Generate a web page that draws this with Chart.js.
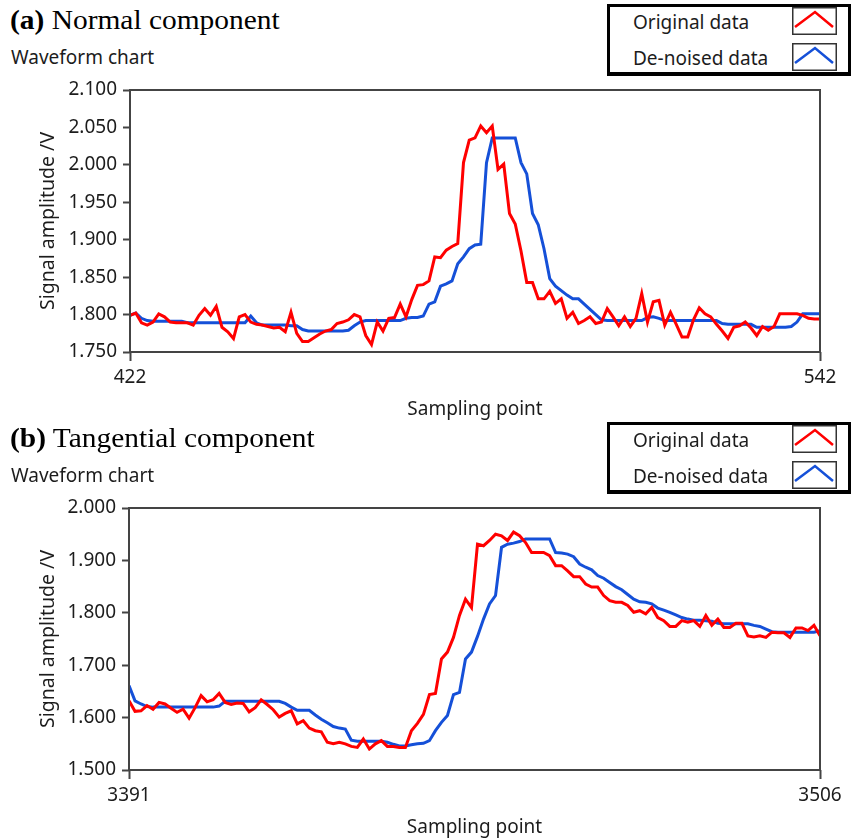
<!DOCTYPE html>
<html>
<head>
<meta charset="utf-8">
<script src="https://cdn.jsdelivr.net/npm/chart.js@4.4.1/dist/chart.umd.min.js"></script>
<style>
html,body{margin:0;padding:0;width:854px;height:840px;overflow:hidden;background:#fff;}
.panel{position:absolute;left:0;width:854px;height:418px;}
.title{position:absolute;left:10px;top:5px;font-family:"Liberation Serif","Times New Roman",serif;font-size:27px;color:#000;white-space:nowrap;line-height:normal;transform:scaleX(1.09);transform-origin:0 0;}
.sub{position:absolute;left:11px;top:44px;font-family:"Noto Sans",sans-serif;font-size:19px;color:#1c1c1c;white-space:nowrap;line-height:normal;}
.legend{position:absolute;left:607px;top:4px;width:238px;height:65px;border:3px solid #000;border-bottom-width:4px;background:#fff;}
.ltext{position:absolute;left:23px;font-family:"Noto Sans",sans-serif;font-size:19px;color:#1c1c1c;white-space:nowrap;line-height:normal;}
.licon{position:absolute;left:182px;width:45px;height:28px;}
canvas{position:absolute;left:0;top:80px;}
</style>
</head>
<body>
<div class="panel" style="top:0">
  <div class="title"><b>(a)</b> Normal component</div>
  <div class="sub">Waveform chart</div>
  <div class="legend">
    <div class="ltext" style="top:2px">Original data</div>
    <svg class="licon" style="top:0" viewBox="0 0 45 28"><rect x="0.75" y="0.75" width="43.5" height="26.5" fill="#fff" stroke="#333" stroke-width="1.5"/><polyline points="3,20 23,5 41,20" fill="none" stroke="#ff0000" stroke-width="2.5"/></svg>
    <div class="ltext" style="top:38px">De-noised data</div>
    <svg class="licon" style="top:36px" viewBox="0 0 45 28"><rect x="0.75" y="0.75" width="43.5" height="26.5" fill="#fff" stroke="#333" stroke-width="1.5"/><polyline points="3,20 23,5 41,20" fill="none" stroke="#1550d8" stroke-width="2.5"/></svg>
  </div>
  <canvas id="chartA" width="854" height="345"></canvas>
</div>
<div class="panel" style="top:418px">
  <div class="title"><b>(b)</b> Tangential component</div>
  <div class="sub">Waveform chart</div>
  <div class="legend">
    <div class="ltext" style="top:2px">Original data</div>
    <svg class="licon" style="top:0" viewBox="0 0 45 28"><rect x="0.75" y="0.75" width="43.5" height="26.5" fill="#fff" stroke="#333" stroke-width="1.5"/><polyline points="3,20 23,5 41,20" fill="none" stroke="#ff0000" stroke-width="2.5"/></svg>
    <div class="ltext" style="top:38px">De-noised data</div>
    <svg class="licon" style="top:36px" viewBox="0 0 45 28"><rect x="0.75" y="0.75" width="43.5" height="26.5" fill="#fff" stroke="#333" stroke-width="1.5"/><polyline points="3,20 23,5 41,20" fill="none" stroke="#1550d8" stroke-width="2.5"/></svg>
  </div>
  <canvas id="chartB" width="854" height="345"></canvas>
</div>
<script>
// ---------- Panel (a): Normal component ----------
const startA = 422;
const originalA = [
  1.799,1.802,1.789,1.786,1.790,1.801,1.797,1.790,1.789,1.789,
  1.789,1.786,1.799,1.808,1.799,1.811,1.783,1.777,1.768,1.797,
  1.800,1.790,1.787,1.786,1.784,1.782,1.783,1.777,1.803,1.775,
  1.764,1.764,1.769,1.774,1.778,1.780,1.788,1.790,1.793,1.800,
  1.797,1.772,1.760,1.790,1.778,1.795,1.796,1.814,1.797,1.820,
  1.839,1.840,1.845,1.877,1.876,1.886,1.891,1.895,2.003,2.033,
  2.036,2.052,2.043,2.052,1.994,2.001,1.935,1.921,1.885,1.843,
  1.843,1.821,1.821,1.831,1.815,1.821,1.795,1.803,1.788,1.792,
  1.797,1.788,1.790,1.808,1.797,1.785,1.797,1.784,1.795,1.828,
  1.790,1.817,1.819,1.786,1.803,1.787,1.770,1.770,1.793,1.809,
  1.801,1.797,1.787,1.778,1.768,1.783,1.785,1.790,1.782,1.772,
  1.784,1.779,1.784,1.801,1.801,1.801,1.801,1.799,1.795,1.794,
  1.794
];
const denoisedA = [
  1.799,1.802,1.795,1.792,1.791,1.791,1.791,1.791,1.791,1.791,
  1.789,1.789,1.789,1.789,1.789,1.789,1.789,1.789,1.789,1.789,
  1.789,1.798,1.789,1.786,1.786,1.786,1.786,1.786,1.785,1.785,
  1.780,1.778,1.778,1.778,1.778,1.778,1.778,1.778,1.779,1.785,
  1.790,1.792,1.792,1.792,1.792,1.792,1.792,1.792,1.795,1.796,
  1.796,1.798,1.814,1.817,1.838,1.841,1.845,1.868,1.877,1.888,
  1.893,1.894,2.003,2.036,2.036,2.036,2.036,2.036,2.003,1.988,
  1.935,1.920,1.888,1.848,1.838,1.832,1.826,1.821,1.821,1.814,
  1.807,1.800,1.793,1.792,1.792,1.792,1.792,1.792,1.792,1.792,
  1.796,1.797,1.795,1.792,1.792,1.792,1.792,1.792,1.792,1.792,
  1.792,1.792,1.792,1.788,1.787,1.787,1.787,1.787,1.787,1.783,
  1.783,1.783,1.783,1.783,1.783,1.784,1.790,1.801,1.801,1.801,
  1.801
];
const yTicksA = [1.750, 1.800, 1.850, 1.900, 1.950, 2.000, 2.050, 2.100];
const xTicksA = [422, 542];
const xTickLabelsA = ['422', '542'];

// ---------- Panel (b): Tangential component ----------
const startB = 3391;
const originalB = [
  1.632,1.612,1.613,1.623,1.616,1.629,1.626,1.618,1.610,1.616,
  1.599,1.619,1.642,1.630,1.634,1.646,1.629,1.625,1.628,1.627,
  1.611,1.619,1.634,1.625,1.615,1.601,1.608,1.613,1.588,1.594,
  1.580,1.575,1.573,1.553,1.550,1.553,1.550,1.545,1.543,1.559,
  1.540,1.550,1.556,1.545,1.545,1.543,1.543,1.575,1.589,1.606,
  1.644,1.646,1.712,1.725,1.753,1.795,1.826,1.810,1.931,1.928,
  1.938,1.950,1.947,1.938,1.954,1.947,1.934,1.915,1.915,1.915,
  1.909,1.890,1.890,1.880,1.869,1.869,1.855,1.849,1.849,1.833,
  1.823,1.820,1.820,1.814,1.801,1.804,1.798,1.810,1.791,1.785,
  1.774,1.774,1.785,1.782,1.785,1.774,1.795,1.776,1.788,1.772,
  1.772,1.780,1.780,1.756,1.754,1.756,1.753,1.763,1.762,1.762,
  1.753,1.771,1.771,1.766,1.776,1.756
];
const denoisedB = [
  1.661,1.632,1.626,1.621,1.620,1.620,1.620,1.620,1.620,1.620,
  1.620,1.620,1.620,1.620,1.620,1.622,1.631,1.631,1.631,1.631,
  1.631,1.631,1.631,1.631,1.631,1.631,1.627,1.620,1.614,1.614,
  1.614,1.605,1.597,1.590,1.583,1.580,1.578,1.557,1.555,1.555,
  1.555,1.555,1.555,1.553,1.549,1.546,1.546,1.548,1.550,1.551,
  1.556,1.575,1.591,1.604,1.644,1.648,1.712,1.725,1.755,1.788,
  1.817,1.833,1.925,1.931,1.933,1.936,1.941,1.941,1.941,1.941,
  1.941,1.915,1.914,1.912,1.907,1.893,1.887,1.882,1.871,1.866,
  1.858,1.850,1.844,1.835,1.826,1.821,1.820,1.817,1.809,1.805,
  1.801,1.796,1.791,1.788,1.786,1.786,1.785,1.784,1.780,1.779,
  1.779,1.779,1.779,1.779,1.776,1.774,1.769,1.764,1.763,1.763,
  1.763,1.763,1.763,1.763,1.763,1.766
];
const yTicksB = [1.500, 1.600, 1.700, 1.800, 1.900, 2.000];
const xTicksB = [3391, 3506];
const xTickLabelsB = ['3391', '3506'];

const seriesNames = ['Original data', 'De-noised data'];
const seriesColors = ['#ff0000', '#1550d8'];

Chart.defaults.font.family = '"Noto Sans", sans-serif';
Chart.defaults.font.size = 19;
Chart.defaults.color = '#1c1c1c';

const framePlugin = {
  id: 'frame',
  afterDatasetsDraw(chart) {
    const {ctx, chartArea: {left, top, right, bottom}} = chart;
    ctx.save();
    ctx.strokeStyle = '#444';
    ctx.lineWidth = 2;
    ctx.strokeRect(left, top, right - left, bottom - top);
    ctx.restore();
  }
};

function toPoints(start, values) {
  return values.map((v, i) => ({x: start + i, y: v}));
}

function makeChart(id, start, orig, den, yTicks, xTicks, xLabels, yAxisWidth) {
  return new Chart(document.getElementById(id), {
    type: 'line',
    data: {
      datasets: [
        {label: seriesNames[0], data: toPoints(start, orig), borderColor: seriesColors[0], borderWidth: 3, pointRadius: 0, tension: 0, fill: false},
        {label: seriesNames[1], data: toPoints(start, den), borderColor: seriesColors[1], borderWidth: 3, pointRadius: 0, tension: 0, fill: false}
      ]
    },
    options: {
      responsive: false,
      animation: false,
      devicePixelRatio: 1,
      layout: {padding: {top: 10, right: 34, left: 0, bottom: 0}},
      plugins: {legend: {display: false}, tooltip: {enabled: false}},
      scales: {
        x: {
          type: 'linear',
          min: xTicks[0],
          max: xTicks[xTicks.length - 1],
          afterBuildTicks: (s) => { s.ticks = xTicks.map(v => ({value: v})); },
          afterFit: (s) => { s.height = 73; s.paddingLeft = 0; s.paddingRight = 0; },
          ticks: {
            autoSkip: false,
            maxRotation: 0,
            padding: 5,
            callback: (v) => xLabels[xTicks.indexOf(v)]
          },
          grid: {display: true, drawOnChartArea: false, drawTicks: true, tickLength: 9, tickColor: '#444', tickWidth: 2, color: '#444'},
          border: {display: false},
          title: {display: true, text: 'Sampling point', padding: {top: 0, bottom: 4}, font: {size: 19}}
        },
        y: {
          type: 'linear',
          min: yTicks[0],
          max: yTicks[yTicks.length - 1],
          afterBuildTicks: (s) => { s.ticks = yTicks.map(v => ({value: v})); },
          afterFit: (s) => { s.width = yAxisWidth; s.paddingTop = 0; s.paddingBottom = 0; },
          ticks: {
            padding: 6,
            callback: (v) => Number(v).toFixed(3)
          },
          grid: {display: true, drawOnChartArea: false, drawTicks: true, tickLength: 7, tickColor: '#444', tickWidth: 2, color: '#444'},
          border: {display: false},
          title: {display: true, text: 'Signal amplitude /V', padding: {top: 37, bottom: 0}, font: {size: 19.5}}
        }
      }
    },
    plugins: [framePlugin]
  });
}

makeChart('chartA', startA, originalA, denoisedA, yTicksA, xTicksA, xTickLabelsA, 130);
makeChart('chartB', startB, originalB, denoisedB, yTicksB, xTicksB, xTickLabelsB, 129);
</script>
</body>
</html>
